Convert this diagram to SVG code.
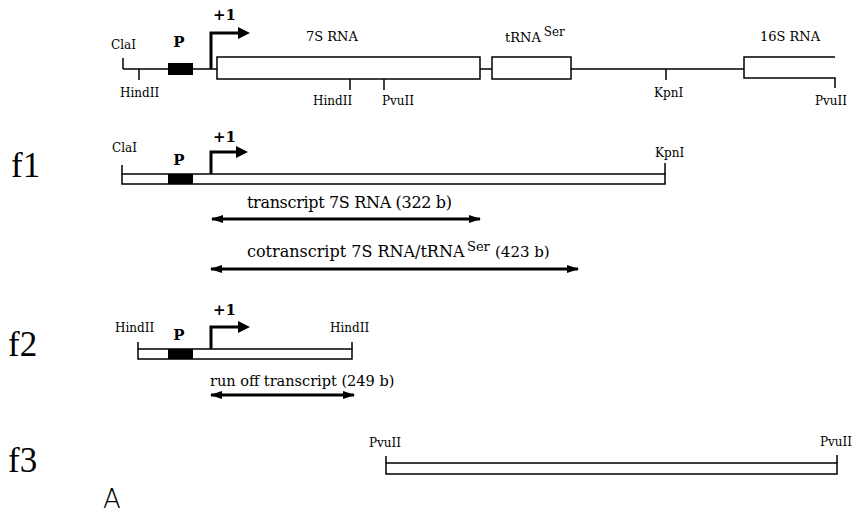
<svg xmlns="http://www.w3.org/2000/svg" width="856" height="516" viewBox="0 0 856 516">
<defs>
<style>
.ln{stroke:#000;stroke-width:1.5;fill:none}
.box{stroke:#000;stroke-width:1.5;fill:#fff}
.prom{fill:#000}
.tss{stroke:#000;stroke-width:3;fill:none}
.dbl{stroke:#000;stroke-width:3;fill:none;marker-start:url(#hs);marker-end:url(#he)}
.sm{font-family:"DejaVu Serif","Liberation Serif",serif;font-size:12px;fill:#000}
.md{font-family:"DejaVu Serif","Liberation Serif",serif;font-size:13px;fill:#000}
.bd{font-family:"DejaVu Serif","Liberation Serif",serif;font-size:15px;font-weight:bold;fill:#000}
.lb{font-family:"DejaVu Serif","Liberation Serif",serif;font-size:16px;fill:#000}
.lb2{font-family:"DejaVu Serif","Liberation Serif",serif;font-size:14.5px;fill:#000}
.big{font-family:"Liberation Serif","DejaVu Serif",serif;font-size:35px;fill:#000}
</style>
<marker id="he" viewBox="0 0 12 8" refX="11" refY="4" markerWidth="12" markerHeight="8" markerUnits="userSpaceOnUse" orient="auto"><path d="M0,0 L12,4 L0,8 Z" fill="#000"/></marker>
<marker id="hs" viewBox="0 0 12 8" refX="1" refY="4" markerWidth="12" markerHeight="8" markerUnits="userSpaceOnUse" orient="auto"><path d="M12,0 L0,4 L12,8 Z" fill="#000"/></marker>
<marker id="ta" viewBox="0 0 12 12" refX="2" refY="6" markerWidth="14" markerHeight="12" markerUnits="userSpaceOnUse" orient="auto"><path d="M0,0 L12,6 L0,12 Z" fill="#000"/></marker>
</defs>
<rect width="856" height="516" fill="#fff"/>

<g id="map">
<text class="sm" x="111" y="49">ClaI</text>
<line class="ln" x1="123" y1="58" x2="123" y2="69"/>
<line class="ln" x1="123" y1="69" x2="217" y2="69"/>
<line class="ln" x1="139" y1="69" x2="139" y2="80"/>
<text class="sm" x="120" y="97">HindII</text>
<rect class="prom" x="168" y="63" width="25" height="12"/>
<text class="bd" x="179" y="47" text-anchor="middle">P</text>
<path class="tss" d="M211,69 V33 H240" marker-end="url(#ta)"/>
<text class="bd" x="213" y="20">+1</text>
<rect class="box" x="217" y="57" width="263" height="22"/>
<text class="md" x="306" y="41">7S RNA</text>
<line class="ln" x1="350" y1="79" x2="350" y2="90"/>
<text class="sm" x="313" y="105">HindII</text>
<line class="ln" x1="384" y1="79" x2="384" y2="90"/>
<text class="sm" x="382" y="105">PvuII</text>
<line class="ln" x1="480" y1="69" x2="492" y2="69"/>
<rect class="box" x="492" y="57" width="79" height="22"/>
<text class="md" x="505" y="42">tRNA<tspan font-size="12" dx="3" dy="-6">Ser</tspan></text>
<line class="ln" x1="571" y1="69" x2="744" y2="69"/>
<line class="ln" x1="666" y1="69" x2="666" y2="80"/>
<text class="sm" x="654" y="97">KpnI</text>
<path class="ln" d="M835,57 H744 V78 H835 V88"/>
<text class="md" x="760" y="41">16S RNA</text>
<text class="sm" x="815" y="105">PvuII</text>
</g>

<g id="f1">
<text class="big" x="11" y="177">f1</text>
<text class="sm" x="112" y="152">ClaI</text>
<path class="box" d="M122,174 H665 V184 H122 Z"/>
<line class="ln" x1="122" y1="165" x2="122" y2="174"/>
<line class="ln" x1="665" y1="163" x2="665" y2="174"/>
<rect class="prom" x="168" y="174" width="25" height="10"/>
<text class="bd" x="179" y="165" text-anchor="middle">P</text>
<path class="tss" d="M211,174 V152 H238" marker-end="url(#ta)"/>
<text class="bd" x="213" y="142">+1</text>
<text class="sm" x="655" y="157">KpnI</text>
</g>

<g id="f2">
<text class="big" x="8" y="356">f2</text>
<text class="sm" x="115" y="332">HindII</text>
<path class="box" d="M138,349 H352 V359 H138 Z"/>
<line class="ln" x1="138" y1="342" x2="138" y2="349"/>
<line class="ln" x1="352" y1="342" x2="352" y2="349"/>
<rect class="prom" x="168" y="349" width="25" height="10"/>
<text class="bd" x="179" y="340" text-anchor="middle">P</text>
<path class="tss" d="M211,349 V327 H240" marker-end="url(#ta)"/>
<text class="bd" x="213" y="315">+1</text>
<text class="sm" x="330" y="332">HindII</text>
</g>

<g id="f3">
<text class="big" x="8" y="472">f3</text>
<text class="sm" x="369" y="447">PvuII</text>
<path class="box" d="M386,463 H837 V474 H386 Z"/>
<line class="ln" x1="386" y1="456" x2="386" y2="463"/>
<line class="ln" x1="837" y1="455" x2="837" y2="463"/>
<text class="sm" x="820" y="446">PvuII</text>
</g>

<g id="labels">
<text class="lb" x="247" y="208" textLength="205">transcript 7S RNA (322 b)</text>
<text class="lb" x="247" y="257">cotranscript 7S RNA/tRNA<tspan x="467" dy="-6" font-size="13">Ser</tspan><tspan x="495" dy="6" font-size="15">(423 b)</tspan></text>
<text class="lb2" x="210" y="386">run off transcript (249 b)</text>
<text x="103" y="508" font-family="'DejaVu Sans','Liberation Sans',sans-serif" font-size="26" font-weight="300" fill="#000">A</text>
</g>

<g id="connectors">
<line class="dbl" x1="212" y1="219" x2="480" y2="219"/>
<line class="dbl" x1="211" y1="269" x2="578" y2="269"/>
<line class="dbl" x1="211" y1="395" x2="354" y2="395"/>
</g>
</svg>
